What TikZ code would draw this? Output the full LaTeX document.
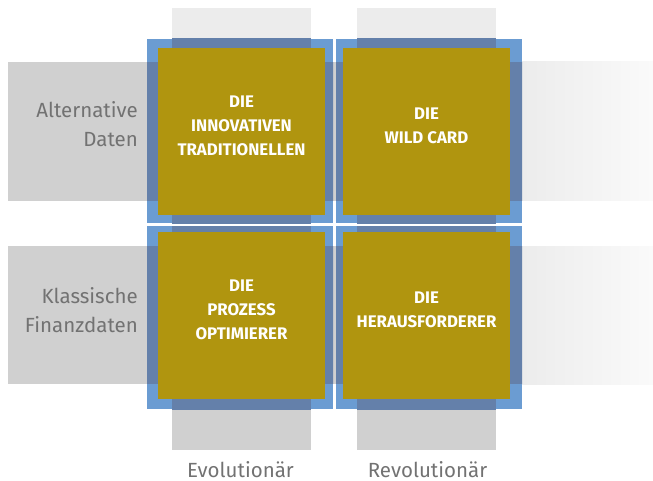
\documentclass[tikz,border=0pt]{standalone}
\usepackage{fontspec}
\setmainfont{Fira Sans}
\definecolor{bandgray}{HTML}{D0D0D0}
\definecolor{bandlight}{HTML}{ECECEC}
\definecolor{fadeend}{HTML}{FAFAFA}
\definecolor{bluelight}{HTML}{6B9CD2}
\definecolor{bluedark}{HTML}{6480AA}
\definecolor{gold}{HTML}{B0950F}
\definecolor{labelgray}{HTML}{727272}
\tikzset{
  goldbox/.style={fill=gold, minimum size=167pt, inner sep=0pt, draw=none},
  quadtext/.style={align=center, text=white, inner sep=0pt,
    font=\bfseries\fontsize{16.8}{24}\selectfont},
  axislabel/.style={text=labelgray, inner sep=0pt,
    font=\fontsize{20.5}{29}\selectfont},
}
\begin{document}
\begin{tikzpicture}[x=1pt,y=-1pt]
\useasboundingbox (0,0) rectangle (653,481);

% horizontal bands (data type)
\fill[bandgray] (8,62) rectangle (340,201);
\fill[bandgray] (8,246) rectangle (340,384);
\shade[left color=bandlight, right color=fadeend] (522,62) rectangle (653,201);
\shade[left color=bandlight, right color=fadeend] (522,246) rectangle (653,384);

% vertical bands (kind of change)
\fill[bandlight] (172,8) rectangle (311,39);
\fill[bandlight] (357,8) rectangle (496,39);
\fill[bandgray] (172,409) rectangle (311,450);
\fill[bandgray] (357,409) rectangle (496,450);

% blue frames, darker where they cross a band
\foreach \xa/\ya/\xb/\yb in {147/39/333/223, 336/39/522/223, 147/226/333/409, 336/226/522/409}{
  \fill[bluelight] (\xa,\ya) rectangle (\xb,\yb);
  \begin{scope}
    \clip (\xa,\ya) rectangle (\xb,\yb);
    \fill[bluedark] (0,62) rectangle (653,201);
    \fill[bluedark] (0,246) rectangle (653,384);
    \fill[bluedark] (172,0) rectangle (311,481);
    \fill[bluedark] (357,0) rectangle (496,481);
  \end{scope}
}

% quadrants
\node[goldbox] (q11) at (241.5,131.5) {};
\node[goldbox] (q12) at (426.5,131.5) {};
\node[goldbox] (q21) at (241.5,315.5) {};
\node[goldbox] (q22) at (426.5,315.5) {};

\node[quadtext] (t11) at (241.5,126) {DIE\\INNOVATIVEN\\TRADITIONELLEN};
\node[quadtext] (t12) at (426.5,126) {DIE\\WILD CARD};
\node[quadtext] (t21) at (241.5,310) {DIE\\PROZESS\\OPTIMIERER};
\node[quadtext] (t22) at (426.5,310) {DIE\\HERAUSFORDERER};

% axis labels
\node[axislabel, anchor=east, align=right] (rowA) at (138,124.5) {Alternative\\Daten};
\node[axislabel, anchor=east, align=right] (rowB) at (138,310) {Klassische\\Finanzdaten};
\node[axislabel, anchor=base] (colA) at (240.5,477) {Evolutionär};
\node[axislabel, anchor=base] (colB) at (427.5,477) {Revolutionär};
\end{tikzpicture}
\end{document}
